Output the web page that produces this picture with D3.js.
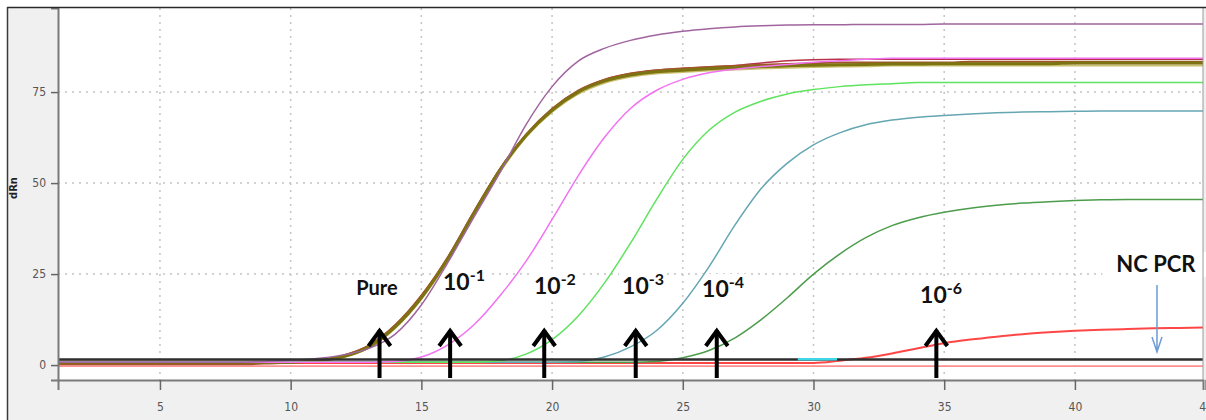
<!DOCTYPE html>
<html><head><meta charset="utf-8">
<script src="https://cdn.jsdelivr.net/npm/d3@7"></script>
<style>html,body{margin:0;padding:0;background:#fff;overflow:hidden}</style>
</head><body><svg id="chart" width="1206" height="420"></svg>
<script>
// ---------- data ----------
const cycles = [1,2,3,4,5,6,7,8,9,10,11,12,13,14,15,16,17,18,19,20,21,22,23,24,25,26,27,28,29,30,31,32,33,34,35,36,37,38,39,40,41,42,43,44,45];

const purpleSeries = [0.8,0.8,0.8,0.8,0.8,0.8,0.8,0.8,1.0,1.3,1.8,2.8,4.6,8.5,16.5,28.0,40.5,52.8,66.0,76.5,83.5,87.0,89.2,90.7,91.7,92.4,92.9,93.2,93.4,93.5,93.5,93.6,93.6,93.6,93.7,93.7,93.7,93.7,93.7,93.7,93.7,93.7,93.7,93.7,93.7];
const pureOlive = [0.8,0.8,0.8,0.8,0.8,0.8,0.8,0.8,0.8,0.8,1.2,2.3,5.0,10.5,18.5,29.0,41.5,53.5,63.0,70.0,75.0,78.0,79.7,80.6,81.0,81.4,81.7,82.0,82.2,82.4,82.5,82.6,82.7,82.7,82.8,82.8,82.8,82.8,82.8,83.0,83.0,83.0,83.0,83.0,83.0];
const pureBrown = [0.2,0.2,0.2,0.2,0.2,0.2,0.2,0.2,0.4,0.7,1.3,2.6,5.4,11.0,19.1,29.5,42.0,53.8,63.3,70.4,75.4,78.4,80.1,81.0,81.5,81.9,82.2,82.5,82.7,82.9,83.1,83.1,83.1,83.1,83.1,83.3,83.3,83.3,83.3,83.3,83.3,83.3,83.3,83.3,83.3];
const pureYellow = [1.0,1.0,1.0,1.0,1.0,1.0,1.0,1.0,1.0,1.0,1.2,2.2,4.8,10.2,18.2,28.6,41.0,53.0,62.6,69.5,74.5,77.5,79.2,80.1,80.5,80.9,81.2,81.5,81.7,81.9,82.0,82.1,82.3,82.3,82.3,82.3,82.3,82.3,82.3,82.3,82.3,82.3,82.3,82.3,82.3];
const pureCrimson = [0.6,0.6,0.6,0.6,0.6,0.6,0.6,0.6,0.6,0.7,1.3,2.6,5.4,11.0,19.1,29.5,42.0,53.8,63.3,70.4,75.4,78.4,80.1,81.0,81.5,81.9,82.3,83.0,83.6,83.9,84.0,84.0,84.0,84.0,84.0,84.0,84.0,84.0,84.0,84.0,84.0,84.0,84.0,84.0,84.0];
const dil1Pink = [0.8,0.8,0.8,0.8,0.8,0.8,0.8,0.8,0.8,0.8,0.8,0.8,0.8,1.0,2.2,5.5,11.0,19.0,28.5,40.0,52.0,62.5,70.5,75.5,78.5,80.3,81.3,82.0,82.6,83.2,83.6,84.0,84.3,84.3,84.3,84.3,84.3,84.3,84.3,84.3,84.3,84.3,84.3,84.3,84.3];
const dil2Green = [0.8,0.8,0.8,0.8,0.8,0.8,0.8,0.8,0.8,0.8,0.8,0.8,0.8,0.8,0.8,0.8,0.8,1.2,3.0,7.0,13.5,22.5,33.5,45.5,56.5,64.5,69.5,72.5,74.5,75.7,76.5,77.0,77.3,77.6,77.6,77.6,77.6,77.6,77.6,77.6,77.6,77.6,77.6,77.6,77.6];
const dil3Teal = [0.8,0.8,0.8,0.8,0.8,0.8,0.8,0.8,0.8,0.8,0.8,0.8,0.8,0.8,0.8,0.8,0.8,0.8,0.8,0.8,1.0,2.2,5.0,9.5,17.0,27.0,38.5,48.5,55.5,60.5,63.8,66.0,67.3,68.1,68.6,69.0,69.3,69.5,69.6,69.7,69.8,69.8,69.8,69.8,69.8];
const dil4DarkGreen = [0.8,0.8,0.8,0.8,0.8,0.8,0.8,0.8,0.8,0.8,0.8,0.8,0.8,0.8,0.8,0.8,0.8,0.8,0.8,0.8,0.8,0.8,0.8,1.0,2.0,4.0,7.5,12.5,18.5,25.0,30.5,35.0,38.3,40.5,42.0,43.1,43.9,44.5,44.9,45.2,45.4,45.5,45.5,45.5,45.5];
const dil6Red = [0.6,0.6,0.6,0.6,0.6,0.6,0.6,0.6,0.6,0.6,0.6,0.6,0.6,0.6,0.6,0.6,0.6,0.6,0.6,0.6,0.6,0.6,0.6,0.6,0.6,0.6,0.6,0.6,0.6,0.6,1.2,2.0,3.2,4.6,6.0,7.0,7.8,8.5,9.0,9.4,9.7,9.9,10.1,10.2,10.3];
const ncValue = -0.3;
const thresholdValue = 1.5;
const cyanCycles = [29.4, 30.9];
const cyanValues = [1.6, 1.6];

const xTicks = [5,10,15,20,25,30,35,40,45];
const yTicks = [0,25,50,75];
const yTitle = "dRn";

const markerCycles = [13.4, 16.1, 19.7, 23.2, 26.3, 34.7];
const labelBase = ["Pure", "10", "10", "10", "10", "10", "NC PCR"];
const labelSup  = ["", "-1", "-2", "-3", "-4", "-6", ""];
const labelCycles = [13.3, 16.63, 20.11, 23.48, 26.54, 34.88, 43.1];
const labelValues = [19.25, 20.63, 19.53, 19.53, 18.70, 17.05, 25.57];
const ncArrowCycle = 43.14;

// ---------- layout ----------
const W = 1206, H = 420;
const PL = 58, PR = 1203, PT = 8, PB = 380;
const x = d3.scaleLinear().domain([1.1, 44.9]).range([PL, PR]);
const y = d3.scaleLinear().domain([-4.1, 98.1]).range([PB, PT]);

const svg = d3.select("#chart");
svg.append("rect").attr("width", W).attr("height", H).attr("fill", "#ffffff");
svg.append("rect").attr("x", 7).attr("y", 7).attr("width", W - 7).attr("height", H - 7).attr("fill", "#f0f0f0");
svg.append("rect").attr("x", PL).attr("y", PT).attr("width", PR - PL).attr("height", PB - PT).attr("fill", "#ffffff");

svg.append("clipPath").attr("id", "plotclip").append("rect")
  .attr("x", PL).attr("y", PT).attr("width", PR - PL).attr("height", PB - PT);

// grid
const grid = svg.append("g").attr("stroke", "#c4c4c4").attr("stroke-width", 1.5).attr("stroke-dasharray", "2,5");
grid.selectAll(".vg").data(xTicks.filter(t => t < 45)).join("line")
  .attr("x1", d => x(d)).attr("x2", d => x(d)).attr("y1", PT).attr("y2", PB);
grid.selectAll(".hg").data(yTicks.filter(t => t > 0)).join("line")
  .attr("x1", PL).attr("x2", PR).attr("y1", d => y(d)).attr("y2", d => y(d));

const labelBgLayer = svg.append("g");
const curves = svg.append("g").attr("clip-path", "url(#plotclip)");

const line = d3.line().x((d, i) => x(cycles[i])).y(d => y(d)).curve(d3.curveMonotoneX);

function drawSeries(vals, color, width) {
  curves.append("path").datum(vals).attr("d", line)
    .attr("fill", "none").attr("stroke", color).attr("stroke-width", width).attr("stroke-linejoin", "round");
}
// NC flat line
curves.append("line").attr("x1", x(cycles[0])).attr("x2", x(cycles[cycles.length - 1]))
  .attr("y1", y(ncValue)).attr("y2", y(ncValue)).attr("stroke", "#ff8f8f").attr("stroke-width", 1.6);
drawSeries(dil6Red, "#ff4646", 2);
drawSeries(pureCrimson, "#b8304a", 1.6);
drawSeries(pureYellow, "#c9c070", 2);
drawSeries(pureBrown, "#a0562a", 2);
drawSeries(pureOlive, "#7c7410", 3);
drawSeries(dil4DarkGreen, "#4c9c4c", 1.5);
drawSeries(dil3Teal, "#64a6b2", 1.5);
drawSeries(dil2Green, "#5fe35f", 1.5);
drawSeries(dil1Pink, "#f272f2", 1.5);
drawSeries(purpleSeries, "#a0649f", 1.5);
// threshold
curves.append("line").attr("x1", x(cycles[0])).attr("x2", x(cycles[cycles.length - 1]))
  .attr("y1", y(thresholdValue)).attr("y2", y(thresholdValue)).attr("stroke", "#2e2e2e").attr("stroke-width", 2.5);
curves.append("line").attr("x1", x(cyanCycles[0])).attr("x2", x(cyanCycles[1]))
  .attr("y1", y(cyanValues[0])).attr("y2", y(cyanValues[1])).attr("stroke", "#3fd6e6").attr("stroke-width", 2.5);

// axes
const yAxis = svg.append("g").attr("transform", `translate(${PL},0)`)
  .call(d3.axisLeft(y).tickValues(yTicks).tickSize(7).tickPadding(5));
const xAxis = svg.append("g").attr("transform", `translate(0,${PB})`)
  .call(d3.axisBottom(x).tickValues(xTicks).tickSize(10).tickPadding(12));
[yAxis, xAxis].forEach(a => {
  a.select(".domain").attr("stroke", "#7a7a7a").attr("stroke-width", 2);
  a.selectAll(".tick line").attr("stroke", "#666").attr("stroke-width", 1.5);
  a.selectAll(".tick text").attr("fill", "#555")
    .style("font-family", "'DejaVu Sans Condensed','Liberation Sans Narrow','DejaVu Sans',sans-serif")
    .style("font-stretch", "condensed").style("font-size", "12px");
});
svg.append("line").attr("x1", PR).attr("x2", PR).attr("y1", PT).attr("y2", PB).attr("stroke", "#9a9a9a").attr("stroke-width", 1);

svg.append("text").attr("transform", "translate(17,188) rotate(-90)")
  .attr("text-anchor", "middle").attr("fill", "#222")
  .style("font-family", "'DejaVu Sans',sans-serif").style("font-weight", "bold").style("font-size", "10px")
  .text(yTitle);

// arrows
const arrows = svg.append("g").attr("stroke", "#000").attr("stroke-width", 4).attr("fill", "none");
markerCycles.forEach(c => {
  const cx = x(c), tip = y(9.64), bot = y(-3.55);
  arrows.append("path").attr("d", `M${cx},${bot}L${cx},${tip}`);
  arrows.append("path").attr("d", `M${cx - 11},${tip + 16}L${cx},${tip + 1}L${cx + 11},${tip + 16}`).attr("stroke-linejoin", "miter");
});
// NC PCR arrow
const nx = x(ncArrowCycle), nTop = y(22.0), nBot = y(3.6);
svg.append("path").attr("d", `M${nx},${nTop}L${nx},${nBot}M${nx - 5},${nBot - 15}L${nx},${nBot}L${nx + 5},${nBot - 15}`)
  .attr("stroke", "#6c9bd6").attr("stroke-width", 1.5).attr("fill", "none");

// labels
const labelLayer = svg.append("g")
  .style("font-family", "Lato,'Open Sans',sans-serif").style("font-weight", "bold").attr("fill", "#111");
labelBase.forEach((t, i) => {
  const txt = labelLayer.append("text").attr("x", x(labelCycles[i])).attr("y", y(labelValues[i]))
    .attr("text-anchor", "middle");
  if (labelSup[i]) {
    txt.append("tspan").text(t).style("font-size", "23px");
    txt.append("tspan").text(labelSup[i]).attr("dy", -9).style("font-size", "16px");
  } else {
    txt.text(t).style("font-size", t === "Pure" ? "20px" : "22px");
  }
  const bb = txt.node().getBBox();
  const padL = t === "NC PCR" ? 14 : 3, padR = t === "NC PCR" ? 12 : 3;
  labelBgLayer.append("rect").attr("x", bb.x - padL).attr("y", bb.y + 2)
    .attr("width", bb.width + padL + padR).attr("height", bb.height - 2).attr("fill", "#fff");
});

// outer frame
svg.append("line").attr("x1", 7).attr("x2", W).attr("y1", 7.5).attr("y2", 7.5).attr("stroke", "#2a2a2a").attr("stroke-width", 1.5);
svg.append("line").attr("x1", 7.5).attr("x2", 7.5).attr("y1", 7).attr("y2", H).attr("stroke", "#3a3a3a").attr("stroke-width", 1.5);
</script></body></html>
